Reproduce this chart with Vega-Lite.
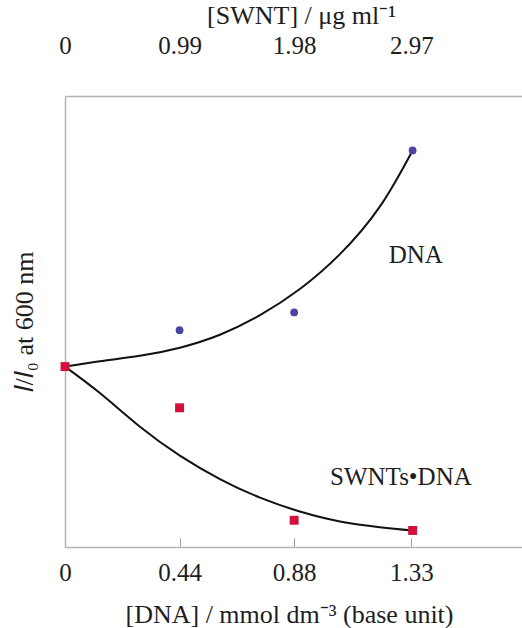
{
  "$schema": "https://vega.github.io/schema/vega-lite/v6.json",
  "width": 457,
  "height": 451,
  "autosize": {"type": "none"},
  "padding": {"left": 65, "top": 96, "right": 0, "bottom": 81},
  "background": "white",
  "config": {
    "view": {"stroke": null},
    "font": "Liberation Serif",
    "axis": {
      "domainColor": "#b4b4b4",
      "domainWidth": 1.5,
      "tickColor": "#9a9a9a",
      "tickWidth": 1,
      "grid": false,
      "labelFont": "Liberation Serif",
      "labelFontSize": 25,
      "labelColor": "#1e1e1e",
      "labelFlush": false,
      "titleFont": "Liberation Serif",
      "titleFontSize": 26,
      "titleFontWeight": "normal",
      "titleColor": "#1e1e1e"
    }
  },
  "datasets": {
    "curves": [
      {"series": "DNA", "dna": 0, "ratio": 1.0},
      {"series": "DNA", "dna": 0.134, "ratio": 1.018},
      {"series": "DNA", "dna": 0.288, "ratio": 1.036},
      {"series": "DNA", "dna": 0.441, "ratio": 1.063},
      {"series": "DNA", "dna": 0.595, "ratio": 1.106},
      {"series": "DNA", "dna": 0.749, "ratio": 1.171},
      {"series": "DNA", "dna": 0.902, "ratio": 1.258},
      {"series": "DNA", "dna": 1.056, "ratio": 1.374},
      {"series": "DNA", "dna": 1.209, "ratio": 1.532},
      {"series": "DNA", "dna": 1.335, "ratio": 1.719},
      {"series": "SWNTs•DNA", "dna": 0, "ratio": 1.0},
      {"series": "SWNTs•DNA", "dna": 0.134, "ratio": 0.912},
      {"series": "SWNTs•DNA", "dna": 0.288, "ratio": 0.8},
      {"series": "SWNTs•DNA", "dna": 0.441, "ratio": 0.704},
      {"series": "SWNTs•DNA", "dna": 0.595, "ratio": 0.626},
      {"series": "SWNTs•DNA", "dna": 0.749, "ratio": 0.564},
      {"series": "SWNTs•DNA", "dna": 0.902, "ratio": 0.518},
      {"series": "SWNTs•DNA", "dna": 1.056, "ratio": 0.485},
      {"series": "SWNTs•DNA", "dna": 1.209, "ratio": 0.466},
      {"series": "SWNTs•DNA", "dna": 1.335, "ratio": 0.455}
    ],
    "measured": [
      {"series": "DNA", "dna": 0, "ratio": 1.0},
      {"series": "DNA", "dna": 0.44, "ratio": 1.121},
      {"series": "DNA", "dna": 0.88, "ratio": 1.18},
      {"series": "DNA", "dna": 1.335, "ratio": 1.719},
      {"series": "SWNTs•DNA", "dna": 0, "ratio": 1.0},
      {"series": "SWNTs•DNA", "dna": 0.44, "ratio": 0.863},
      {"series": "SWNTs•DNA", "dna": 0.88, "ratio": 0.489},
      {"series": "SWNTs•DNA", "dna": 1.335, "ratio": 0.455}
    ],
    "labels": [
      {"text": "DNA", "dna": 1.347, "ratio": 1.372},
      {"text": "SWNTs•DNA", "dna": 1.29, "ratio": 0.634}
    ]
  },
  "resolve": {"axis": {"x": "independent"}},
  "layer": [
    {
      "data": {"name": "curves"},
      "mark": {"type": "line", "interpolate": "natural", "color": "#111111", "strokeWidth": 2},
      "encoding": {
        "x": {
          "field": "dna", "type": "quantitative",
          "scale": {"domain": [0, 1.755], "nice": false, "zero": false},
          "axis": {
            "orient": "bottom",
            "values": [0, 0.44, 0.88, 1.33],
            "tickSize": -9,
            "labelPadding": 22,
            "labelExpr": "datum.value < 0.2 ? '0' : datum.value < 0.6 ? '0.44' : datum.value < 1.1 ? '0.88' : '1.33'",
            "title": "[DNA] / mmol dm⁻³ (base unit)",
            "titleX": 224,
            "titlePadding": 16
          }
        },
        "y": {
          "field": "ratio", "type": "quantitative",
          "scale": {"domain": [0.4, 1.9], "nice": false, "zero": false},
          "axis": {
            "ticks": false,
            "labels": false,
            "title": "𝐼/𝐼₀ at 600 nm",
            "titlePadding": 28
          }
        },
        "detail": {"field": "series"}
      }
    },
    {
      "data": {"name": "measured"},
      "transform": [{"filter": "datum.series === 'DNA'"}],
      "mark": {"type": "point", "shape": "circle", "filled": true, "size": 60, "color": "#4a44a3", "opacity": 1},
      "encoding": {
        "x": {
          "field": "dna", "type": "quantitative",
          "axis": {
            "orient": "top",
            "values": [0, 0.44, 0.88, 1.33],
            "ticks": false,
            "labelPadding": 38,
            "labelExpr": "datum.value < 0.2 ? '0' : datum.value < 0.6 ? '0.99' : datum.value < 1.1 ? '1.98' : '2.97'",
            "title": "[SWNT] / μg ml⁻¹",
            "titleX": 236,
            "titlePadding": 5
          }
        },
        "y": {"field": "ratio", "type": "quantitative"}
      }
    },
    {
      "data": {"name": "measured"},
      "transform": [{"filter": "datum.series === 'SWNTs•DNA'"}],
      "mark": {"type": "square", "filled": true, "size": 80, "color": "#d3103b", "opacity": 1},
      "encoding": {
        "x": {"field": "dna", "type": "quantitative", "axis": null},
        "y": {"field": "ratio", "type": "quantitative"}
      }
    },
    {
      "data": {"name": "labels"},
      "mark": {"type": "text", "font": "Liberation Serif", "fontSize": 25, "color": "#1e1e1e", "align": "center", "baseline": "middle"},
      "encoding": {
        "x": {"field": "dna", "type": "quantitative", "axis": null},
        "y": {"field": "ratio", "type": "quantitative"},
        "text": {"field": "text"}
      }
    }
  ]
}
